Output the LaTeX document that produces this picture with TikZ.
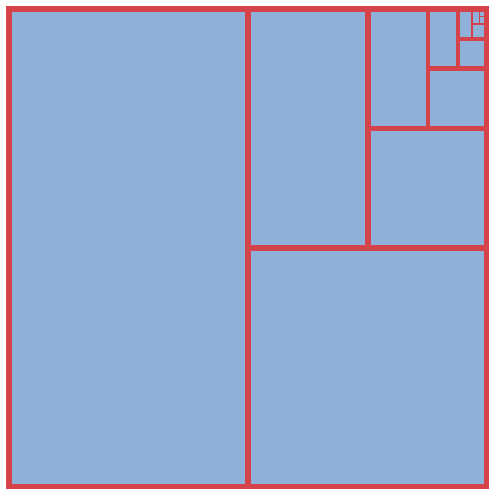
\documentclass[tikz,border=0pt]{standalone}
\definecolor{cellblue}{HTML}{8FB1DA}
\definecolor{edgered}{HTML}{D7434B}
\tikzset{
  wall/.style={draw=edgered, line cap=rect},
}
\begin{document}
\begin{tikzpicture}[x=1pt,y=-1pt]
\useasboundingbox (0,0) rectangle (489,489);
\fill[white] (0,0) rectangle (489,489);
\fill[cellblue] (9,9) rectangle (487,487);
\draw[wall, line width=5.2pt] (248,9) -- (248,487);
\draw[wall, line width=5.2pt] (248,248) -- (487,248);
\draw[wall, line width=5.2pt] (368,9) -- (368,248);
\draw[wall, line width=5pt] (368,128.5) -- (487,128.5);
\draw[wall, line width=4.8pt] (428,9) -- (428,128.5);
\draw[wall, line width=4.4pt] (428,68.5) -- (487,68.5);
\draw[wall, line width=4pt] (457.5,9) -- (457.5,68.5);
\draw[wall, line width=3.4pt] (457.5,39) -- (487,39);
\draw[wall, line width=2.8pt] (472,9) -- (472,39);
\draw[wall, line width=2.2pt] (472,24) -- (487,24);
\draw[wall, line width=1.6pt] (479.5,9) -- (479.5,24);
\draw[wall, line width=1.2pt] (479.5,16.5) -- (487,16.5);
\draw[edgered, line width=6pt] (9,9) rectangle (487,487);
\end{tikzpicture}
\end{document}
